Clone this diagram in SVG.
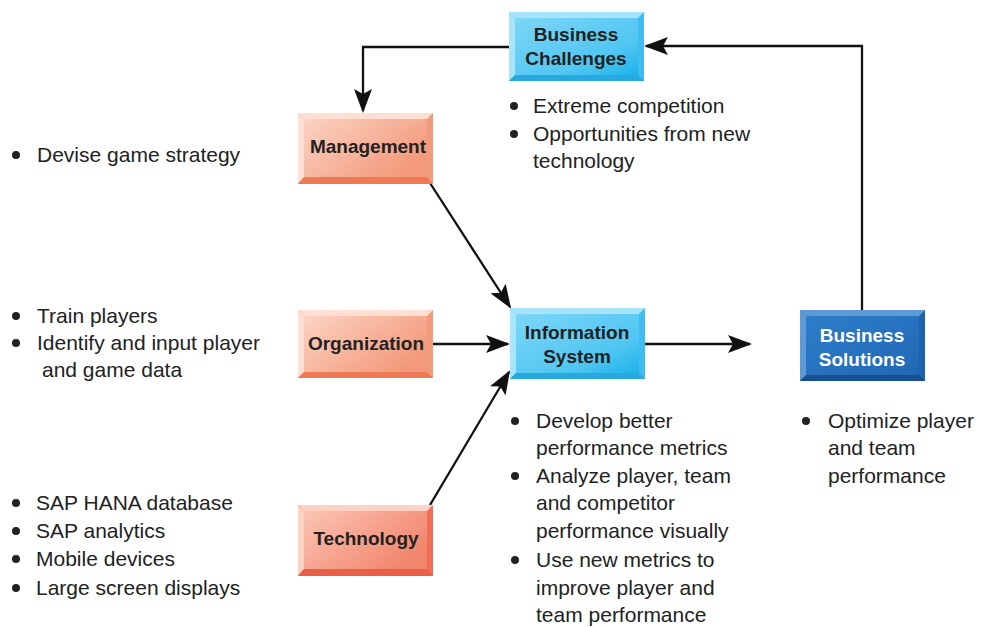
<svg xmlns="http://www.w3.org/2000/svg" width="983" height="627" viewBox="0 0 983 627">
<defs>
<linearGradient id="gBlue" x1="0" y1="0" x2="1" y2="1"><stop offset="0" stop-color="#7dd6f7"/><stop offset="0.7" stop-color="#4fc6f1"/><stop offset="1" stop-color="#1cb2ea"/></linearGradient>
<linearGradient id="gSalmon" x1="0" y1="0" x2="1" y2="0.6"><stop offset="0" stop-color="#fbd3c2"/><stop offset="1" stop-color="#f39a7c"/></linearGradient>
<linearGradient id="gRed" x1="0" y1="0" x2="1" y2="0.6"><stop offset="0" stop-color="#fbc4b4"/><stop offset="1" stop-color="#f1866d"/></linearGradient>
<linearGradient id="gDark" x1="0" y1="0" x2="1" y2="1"><stop offset="0" stop-color="#2e7dc9"/><stop offset="1" stop-color="#1f68b6"/></linearGradient>
<marker id="arr" viewBox="0 0 24 18" refX="22" refY="9" markerWidth="24" markerHeight="18" markerUnits="userSpaceOnUse" orient="auto">
<path d="M0,0 L24,9 L0,18 L5,9 Z" fill="#111"/>
</marker>
</defs>
<style>
.edge{stroke-width:2.3;fill:none;stroke:#111}
.lbl{font-family:"Liberation Sans",Arial,sans-serif;font-weight:bold;font-size:19px;fill:#222;text-anchor:middle}
.wl{fill:#fff}
.bt{font-family:"Liberation Sans",Arial,sans-serif;font-size:21px;fill:#222}
.dot{fill:#222}
.blue .o{fill:#3fbdf0}.blue .t{fill:#a9e5fa}.blue .b{fill:#27a9e0}.blue .i{fill:url(#gBlue)}
.sal .o{fill:#f29a7c}.sal .t{fill:#fde0d3}.sal .b{fill:#ee7a55}.sal .i{fill:url(#gSalmon)}
.red .o{fill:#ef6e55}.red .t{fill:#fcd2c4}.red .b{fill:#ea5f47}.red .i{fill:url(#gRed)}
.dark .o{fill:#1d62ad}.dark .t{fill:#5d9ad6}.dark .b{fill:#174f91}.dark .i{fill:url(#gDark)}
</style>
<rect width="983" height="627" fill="#fff"/>

<g id="connectors">
<path class="edge" d="M509,47 H363 V111" marker-end="url(#arr)"/>
<path class="edge" d="M862,310 V46 H646" marker-end="url(#arr)"/>
<path class="edge" d="M430,183 L510,307" marker-end="url(#arr)"/>
<path class="edge" d="M433,344 H508" marker-end="url(#arr)"/>
<path class="edge" d="M430,505 L509,372" marker-end="url(#arr)"/>
<path class="edge" d="M645,344 H750" marker-end="url(#arr)"/>
</g>

<g id="business-challenges" class="blue">
<rect class="o" x="509" y="12" width="135" height="69"/>
<polygon class="t" points="509,12 644,12 638,18 515,18"/>
<polygon class="t" points="509,12 515,18 515,75 509,81"/>
<polygon class="b" points="509,81 515,75 638,75 644,81"/>
<rect class="i" x="515" y="18" width="123" height="57"/>
<text class="lbl" x="576" y="41">Business</text>
<text class="lbl" x="576" y="65">Challenges</text>
</g>

<g id="management" class="sal">
<rect class="o" x="298" y="113" width="135" height="71"/>
<polygon class="t" points="298,113 433,113 427,119 304,119"/>
<polygon class="t" points="298,113 304,119 304,177 298,184"/>
<polygon class="b" points="298,184 304,177 427,177 433,184"/>
<rect class="i" x="304" y="119" width="123" height="58"/>
<text class="lbl" x="368" y="153">Management</text>
</g>

<g id="organization" class="sal">
<rect class="o" x="298" y="310" width="135" height="68"/>
<polygon class="t" points="298,310 433,310 427,316 304,316"/>
<polygon class="t" points="298,310 304,316 304,372 298,378"/>
<polygon class="b" points="298,378 304,372 427,372 433,378"/>
<rect class="i" x="304" y="316" width="123" height="56"/>
<text class="lbl" x="366" y="350">Organization</text>
</g>

<g id="technology" class="red">
<rect class="o" x="298" y="505" width="135" height="71"/>
<polygon class="t" points="298,505 433,505 427,511 304,511"/>
<polygon class="t" points="298,505 304,511 304,569 298,576"/>
<polygon class="b" points="298,576 304,569 427,569 433,576"/>
<rect class="i" x="304" y="511" width="123" height="58"/>
<text class="lbl" x="366" y="545">Technology</text>
</g>

<g id="information-system" class="blue">
<rect class="o" x="510" y="308" width="135" height="71"/>
<polygon class="t" points="510,308 645,308 639,314 516,314"/>
<polygon class="t" points="510,308 516,314 516,373 510,379"/>
<polygon class="b" points="510,379 516,373 639,373 645,379"/>
<rect class="i" x="516" y="314" width="123" height="59"/>
<text class="lbl" x="577" y="339">Information</text>
<text class="lbl" x="577" y="363">System</text>
</g>

<g id="business-solutions" class="dark">
<rect class="o" x="800" y="310" width="125" height="71"/>
<polygon class="t" points="800,310 925,310 919,316 806,316"/>
<polygon class="t" points="800,310 806,316 806,375 800,381"/>
<polygon class="b" points="800,381 806,375 919,375 925,381"/>
<rect class="i" x="806" y="316" width="113" height="59"/>
<text class="lbl wl" x="862" y="342">Business</text>
<text class="lbl wl" x="862" y="366">Solutions</text>
</g>

<g id="bullets">
<circle class="dot" cx="16" cy="155" r="4"/>
<text class="bt" x="37" y="162">Devise game strategy</text>

<circle class="dot" cx="16" cy="316" r="4"/>
<text class="bt" x="37" y="323">Train players</text>
<circle class="dot" cx="16" cy="343" r="4"/>
<text class="bt" x="37" y="350">Identify and input player</text>
<text class="bt" x="42" y="377">and game data</text>

<circle class="dot" cx="16" cy="503" r="4"/>
<text class="bt" x="36" y="510">SAP HANA database</text>
<circle class="dot" cx="16" cy="531" r="4"/>
<text class="bt" x="36" y="538">SAP analytics</text>
<circle class="dot" cx="16" cy="559" r="4"/>
<text class="bt" x="36" y="566">Mobile devices</text>
<circle class="dot" cx="16" cy="588" r="4"/>
<text class="bt" x="36" y="595">Large screen displays</text>

<circle class="dot" cx="514" cy="106" r="4"/>
<text class="bt" x="533" y="113">Extreme competition</text>
<circle class="dot" cx="514" cy="134" r="4"/>
<text class="bt" x="533" y="141">Opportunities from new</text>
<text class="bt" x="533" y="168">technology</text>

<circle class="dot" cx="515" cy="421" r="4"/>
<text class="bt" x="536" y="428">Develop better</text>
<text class="bt" x="536" y="455">performance metrics</text>
<circle class="dot" cx="515" cy="476" r="4"/>
<text class="bt" x="536" y="483">Analyze player, team</text>
<text class="bt" x="536" y="510">and competitor</text>
<text class="bt" x="536" y="538">performance visually</text>
<circle class="dot" cx="515" cy="560" r="4"/>
<text class="bt" x="536" y="567">Use new metrics to</text>
<text class="bt" x="536" y="595">improve player and</text>
<text class="bt" x="536" y="622">team performance</text>

<circle class="dot" cx="806" cy="421" r="4"/>
<text class="bt" x="828" y="428">Optimize player</text>
<text class="bt" x="828" y="455">and team</text>
<text class="bt" x="828" y="483">performance</text>
</g>
</svg>
